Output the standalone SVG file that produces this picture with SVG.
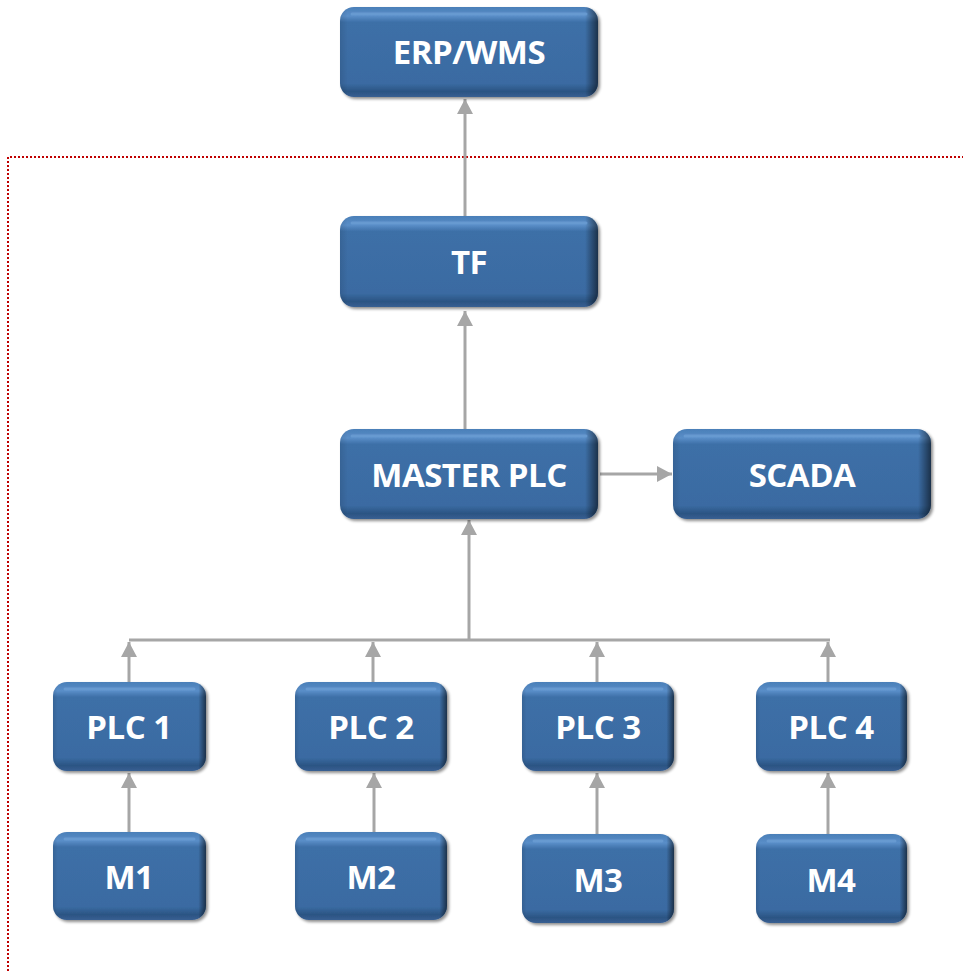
<svg xmlns="http://www.w3.org/2000/svg" width="963" height="971" viewBox="0 0 963 971">
<defs>
<style>
.box{fill:url(#gv);filter:url(#sh)}
.edge{fill:url(#gh)}
.hl{fill:none;stroke:#6b9dd3;stroke-width:3;stroke-linecap:round;opacity:0.8}
.lbl{font-family:"Open Sans","Noto Sans",sans-serif;font-weight:bold;font-size:33px;letter-spacing:-0.5px;fill:#ffffff;text-anchor:middle}
.con{fill:none;stroke:#a6a6a6;stroke-width:3}
.arr{marker-end:url(#ah)}
</style>
<linearGradient id="gv" x1="0" y1="0" x2="0" y2="1">
<stop offset="0" stop-color="#4a7fb8"/>
<stop offset="0.1" stop-color="#5a8ec8"/>
<stop offset="0.17" stop-color="#3d6fa7"/>
<stop offset="0.85" stop-color="#3a6ba2"/>
<stop offset="0.94" stop-color="#2b5483"/>
<stop offset="1" stop-color="#385f92"/>
</linearGradient>
<linearGradient id="gh" x1="0" y1="0" x2="1" y2="0">
<stop offset="0" stop-color="#000" stop-opacity="0.1"/>
<stop offset="0.03" stop-color="#000" stop-opacity="0"/>
<stop offset="0.95" stop-color="#000" stop-opacity="0"/>
<stop offset="1" stop-color="#000" stop-opacity="0.55"/>
</linearGradient>
<filter id="sh" x="-10%" y="-10%" width="125%" height="130%">
<feGaussianBlur in="SourceAlpha" stdDeviation="1.5"/>
<feOffset dx="1.5" dy="2" result="o"/>
<feComponentTransfer><feFuncA type="linear" slope="0.45"/></feComponentTransfer>
<feMerge><feMergeNode/><feMergeNode in="SourceGraphic"/></feMerge>
</filter>
<marker id="ah" markerUnits="userSpaceOnUse" markerWidth="16" markerHeight="16" refX="15" refY="8" orient="auto">
<path d="M0,0 L15,8 L0,16 z" fill="#a6a6a6"/>
</marker>
</defs>
<rect width="963" height="971" fill="#ffffff"/>
<path d="M8,971 V157 H963" fill="none" stroke="#c00000" stroke-width="2" stroke-dasharray="2 2"/>
<g id="connectors">
<path class="con arr" d="M465,216 V99"/>
<path class="con arr" d="M465,429 V311"/>
<path class="con arr" d="M600,474 H672"/>
<path class="con" d="M129,640 H830"/>
<path class="con arr" d="M469,640 V520"/>
<path class="con arr" d="M129,682 V642"/>
<path class="con arr" d="M373,682 V642"/>
<path class="con arr" d="M597,682 V642"/>
<path class="con arr" d="M828,682 V642"/>
<path class="con arr" d="M129,832 V773"/>
<path class="con arr" d="M374,832 V773"/>
<path class="con arr" d="M597,834 V773"/>
<path class="con arr" d="M828,834 V773"/>
</g>
<g id="erp">
<rect class="box" x="340" y="7" width="258" height="90" rx="14"/>
<rect class="edge" x="340" y="7" width="258" height="90" rx="14"/>
<path class="hl" d="M352,14 H586"/>
<text class="lbl" x="469" y="64">ERP/WMS</text>
</g>
<g id="tf">
<rect class="box" x="340" y="216" width="258" height="91" rx="14"/>
<rect class="edge" x="340" y="216" width="258" height="91" rx="14"/>
<path class="hl" d="M352,223 H586"/>
<text class="lbl" x="469" y="274">TF</text>
</g>
<g id="master">
<rect class="box" x="340" y="429" width="258" height="90" rx="14"/>
<rect class="edge" x="340" y="429" width="258" height="90" rx="14"/>
<path class="hl" d="M352,436 H586"/>
<text class="lbl" x="469" y="487">MASTER PLC</text>
</g>
<g id="scada">
<rect class="box" x="673" y="429" width="258" height="90" rx="14"/>
<rect class="edge" x="673" y="429" width="258" height="90" rx="14"/>
<path class="hl" d="M685,436 H919"/>
<text class="lbl" x="802" y="487">SCADA</text>
</g>
<g id="plc1">
<rect class="box" x="53" y="682" width="153" height="89" rx="14"/>
<rect class="edge" x="53" y="682" width="153" height="89" rx="14"/>
<path class="hl" d="M65,689 H194"/>
<text class="lbl" x="129" y="739">PLC 1</text>
</g>
<g id="plc2">
<rect class="box" x="295" y="682" width="152" height="89" rx="14"/>
<rect class="edge" x="295" y="682" width="152" height="89" rx="14"/>
<path class="hl" d="M307,689 H435"/>
<text class="lbl" x="371" y="739">PLC 2</text>
</g>
<g id="plc3">
<rect class="box" x="522" y="682" width="152" height="89" rx="14"/>
<rect class="edge" x="522" y="682" width="152" height="89" rx="14"/>
<path class="hl" d="M534,689 H662"/>
<text class="lbl" x="598" y="739">PLC 3</text>
</g>
<g id="plc4">
<rect class="box" x="756" y="682" width="151" height="89" rx="14"/>
<rect class="edge" x="756" y="682" width="151" height="89" rx="14"/>
<path class="hl" d="M768,689 H895"/>
<text class="lbl" x="831" y="739">PLC 4</text>
</g>
<g id="m1">
<rect class="box" x="53" y="832" width="153" height="88" rx="14"/>
<rect class="edge" x="53" y="832" width="153" height="88" rx="14"/>
<path class="hl" d="M65,839 H194"/>
<text class="lbl" x="129" y="889">M1</text>
</g>
<g id="m2">
<rect class="box" x="295" y="832" width="152" height="88" rx="14"/>
<rect class="edge" x="295" y="832" width="152" height="88" rx="14"/>
<path class="hl" d="M307,839 H435"/>
<text class="lbl" x="371" y="889">M2</text>
</g>
<g id="m3">
<rect class="box" x="522" y="834" width="152" height="89" rx="14"/>
<rect class="edge" x="522" y="834" width="152" height="89" rx="14"/>
<path class="hl" d="M534,841 H662"/>
<text class="lbl" x="598" y="892">M3</text>
</g>
<g id="m4">
<rect class="box" x="756" y="834" width="151" height="89" rx="14"/>
<rect class="edge" x="756" y="834" width="151" height="89" rx="14"/>
<path class="hl" d="M768,841 H895"/>
<text class="lbl" x="831" y="892">M4</text>
</g>
</svg>
